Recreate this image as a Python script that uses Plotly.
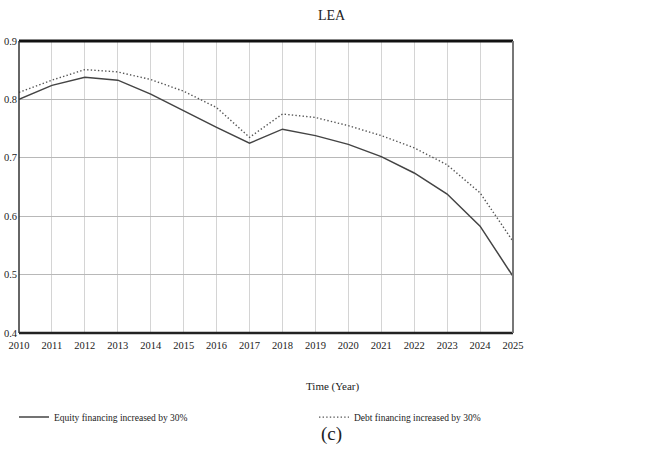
import plotly.graph_objects as go

years = list(range(2010, 2026))
equity_30 = [0.800, 0.824, 0.838, 0.833, 0.809, 0.780, 0.752, 0.725,
             0.749, 0.738, 0.723, 0.702, 0.674, 0.638, 0.583, 0.497]
debt_30 = [0.812, 0.833, 0.851, 0.847, 0.834, 0.814, 0.786, 0.735,
           0.775, 0.769, 0.755, 0.738, 0.717, 0.688, 0.640, 0.557]
y_ticks = [0.4, 0.5, 0.6, 0.7, 0.8, 0.9]

FONT = "Liberation Serif, serif"
INK = "#222222"

fig = go.Figure()
fig.add_trace(go.Scatter(
    x=years, y=equity_30, mode="lines",
    name="Equity financing increased by 30%",
    line=dict(color="#444444", width=1.5),
    legend="legend",
))
fig.add_trace(go.Scatter(
    x=years, y=debt_30, mode="lines",
    name="Debt financing increased by 30%",
    line=dict(color="#555555", width=1.4, dash="1.4px,2.2px"),
    legend="legend2",
))

# frame around the plotting area
fig.add_shape(type="line", xref="paper", yref="paper", x0=0, x1=1, y0=1, y1=1,
              line=dict(color="#111111", width=3))
fig.add_shape(type="line", xref="paper", yref="paper", x0=0, x1=1, y0=0, y1=0,
              line=dict(color="#222222", width=2.5))
fig.add_shape(type="line", xref="paper", yref="paper", x0=0, x1=0, y0=0, y1=1,
              line=dict(color="#333333", width=1.5))
fig.add_shape(type="line", xref="paper", yref="paper", x0=1, x1=1, y0=0, y1=1,
              line=dict(color="#777777", width=2))

legend_common = dict(orientation="h", xanchor="left", y=-0.288,
                     yanchor="middle", itemwidth=30,
                     font=dict(family=FONT, size=9.5, color=INK),
                     bgcolor="rgba(0,0,0,0)")

fig.update_layout(
    width=663, height=462,
    margin=dict(l=19, r=150, t=41, b=129, autoexpand=False),
    paper_bgcolor="white", plot_bgcolor="white",
    font=dict(family=FONT, size=11, color=INK),
    title=dict(text="LEA", x=0.5, xref="container", xanchor="center",
               y=1 - 15 / 462, yref="container", yanchor="middle",
               font=dict(family=FONT, size=14, color=INK)),
    xaxis=dict(range=[2010, 2025], tickmode="array", tickvals=years,
               ticktext=[str(y) for y in years], showgrid=True,
               gridcolor="#d4d4d4", gridwidth=1, zeroline=False,
               showline=False, ticks="", automargin=False,
               ticklabelstandoff=4, tickfont=dict(size=10.5)),
    yaxis=dict(range=[0.4, 0.9], tickmode="array", tickvals=y_ticks,
               ticktext=[f"{v:.1f}" for v in y_ticks], showgrid=True,
               gridcolor="#b8b8b8", gridwidth=1.2, zeroline=False,
               showline=False, ticks="", automargin=False,
               ticklabelstandoff=1, tickfont=dict(size=10.5)),
    showlegend=True,
    legend=dict(x=(14 - 19) / 494, **legend_common),
    legend2=dict(x=(314 - 19) / 494, **legend_common),
    annotations=[
        dict(text="Time (Year)", xref="paper", yref="paper",
             x=(333 - 19) / 494, y=(333 - 386) / 292, showarrow=False,
             xanchor="center", yanchor="middle",
             font=dict(family=FONT, size=11, color=INK)),
        dict(text="(c)", xref="paper", yref="paper",
             x=(331 - 19) / 494, y=(333 - 434) / 292, showarrow=False,
             xanchor="center", yanchor="middle",
             font=dict(family=FONT, size=19, color=INK)),
    ],
)

fig.write_html("out.html")
